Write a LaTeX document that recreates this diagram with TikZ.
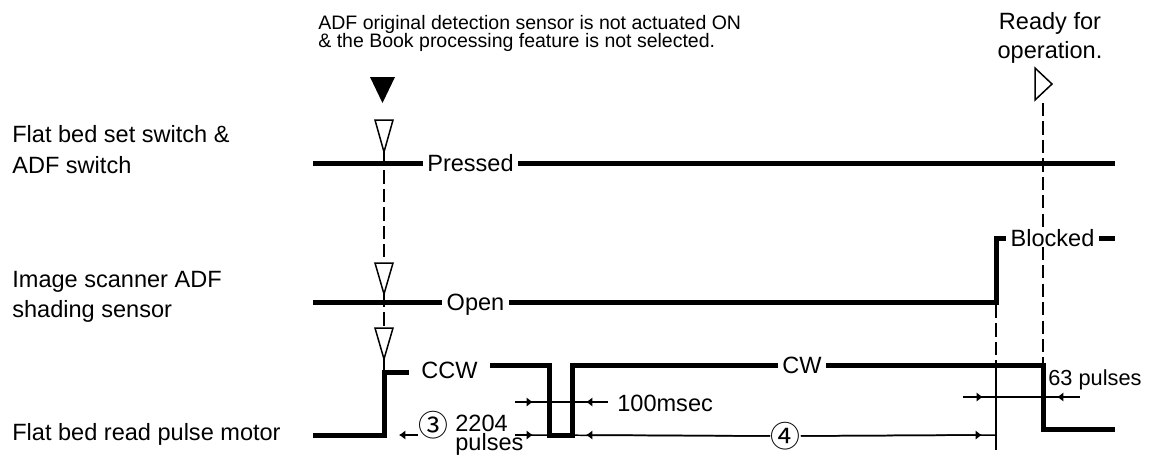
\documentclass[tikz,border=0pt]{standalone}
\usepackage{fontspec}
\setmainfont{Liberation Sans}
\newfontfamily\circfont{Noto Sans CJK JP}
\usetikzlibrary{arrows.meta}
\newcommand\labfont{\fontsize{13.4}{16}\selectfont}
\newcommand\notefont{\fontsize{11.1}{13}\selectfont}
\newcommand\pulsefont{\fontsize{12.4}{14}\selectfont}
\newcommand\circnum{\circfont\fontsize{17}{19}\selectfont}
\tikzset{
  sig/.style={line width=2.85pt},
  refln/.style={line width=0.85pt},
  dashln/.style={line width=0.85pt,dash pattern=on 7.5pt off 3pt},
  ah/.style={line width=0.85pt,-{Latex[length=3.6pt,width=5.4pt]}},
  lvl/.style={font=\labfont,inner xsep=2.5pt,inner ysep=0pt,text height=9.6pt,text depth=0pt},
  txt/.style={inner sep=0pt,anchor=base west}
}

\begin{document}
\begin{tikzpicture}[x=0.02cm,y=-0.02cm]
\useasboundingbox (0,0) rectangle (1150,458);

% conditions
\node[txt,font=\notefont] (cond1) at (318,29) {ADF original detection sensor is not actuated ON};
\node[txt,font=\notefont] (cond2) at (318,47) {\& the Book processing feature is not selected.};
\node[inner sep=0pt,anchor=base,font=\labfont] (ready1) at (1050,29) {Ready for};
\node[inner sep=0pt,anchor=base,font=\labfont] (ready2) at (1050,58) {operation.};

% signal names
\node[txt,font=\labfont] (sw1) at (12,142) {Flat bed set switch \&};
\node[txt,font=\labfont] (sw2) at (12,173) {ADF switch};
\node[txt,font=\labfont] (sh1) at (12,287) {Image scanner ADF};
\node[txt,font=\labfont] (sh2) at (12,317) {shading sensor};
\node[txt,font=\labfont] (mot) at (12,440) {Flat bed read pulse motor};

% levels
\node[lvl] (pressed) at (470.5,163) {Pressed};
\node[lvl] (open) at (475.5,302) {Open};
\node[lvl] (blocked) at (1052.5,238) {Blocked};
\node[lvl,inner xsep=7pt] (ccw) at (449.5,370) {CCW};
\node[lvl] (cw) at (802,365) {CW};

% switch
\draw[sig] (313,163) -- (pressed);
\draw[sig] (pressed) -- (1115,163);

% shading sensor
\draw[sig] (313,302) -- (open);
\draw[sig] (open) -- (996,302) -- (996,238) -- (blocked);
\draw[sig] (blocked) -- (1115,238);

% motor
\coordinate (m1) at (384,372);
\coordinate (m2) at (549,365);
\draw[sig] (313,435) -- (384,435) -- (m1) -- (m1 -| ccw.west);
\draw[sig] (m2 -| ccw.east) -- (m2) -- (549,435) -- (572,435) -- (572,365) -- (cw);
\draw[sig] (cw) -- (1043,365) -- (1043,429) -- (1115,429);

% triggers
\fill (370,77) -- (395,77) -- (382.5,103) -- cycle;
\foreach \y/\t in {120/152,263/294,328/359}
  \draw[refln,fill=white] (375,\y) -- (393,\y) -- (384,\t) -- cycle;
\draw[dashln] (384,152) -- (384,263);
\draw[dashln] (384,294) -- (384,328);
\draw[refln] (384,359) -- (m1);

\draw[refln] (1035,68) -- (1052,84) -- (1035,100) -- cycle;
\coordinate (rd) at (1043,103);
\draw[dashln] (rd) -- (rd |- blocked.north);
\draw[dashln] (rd |- blocked.south) -- (1043,365);

\draw[dashln] (996,305) -- (996,365);
\draw[refln] (996,365) -- (996,450);

% 2204 pulses
\node[font=\circnum,inner sep=0pt] (c3) at (433.5,425) {③};
\draw[ah] (418,435) -- (399,435);
\node[inner sep=0pt,anchor=north west,align=left,font=\fontsize{13.4}{10.8}\selectfont] (p2204) at (455,415) {2204\\pulses};

% 100msec
\draw[refln] (515,402) -- (608,402);
\draw[ah] (515,402) -- (533,402);
\draw[ah] (608,402) -- (586,402);
\node[txt,font=\labfont] (ms) at (617,411) {100msec};

% bottom span
\node[font=\circnum,inner sep=0pt] (c4) at (785.5,436) {④};
\draw[refln] (515,435) -- (c4);
\draw[refln] (c4) -- (996,435);
\draw[ah] (515,435) -- (533,435);
\draw[ah] (c4) -- (586,435);
\draw[ah] (c4) -- (982,435);

% 63 pulses
\draw[refln] (963,397) -- (1080,397);
\draw[ah] (963,397) -- (983,397);
\draw[ah] (1080,397) -- (1057,397);
\node[txt,font=\pulsefont] (p63) at (1048,385) {63 pulses};
\end{tikzpicture}
\end{document}
